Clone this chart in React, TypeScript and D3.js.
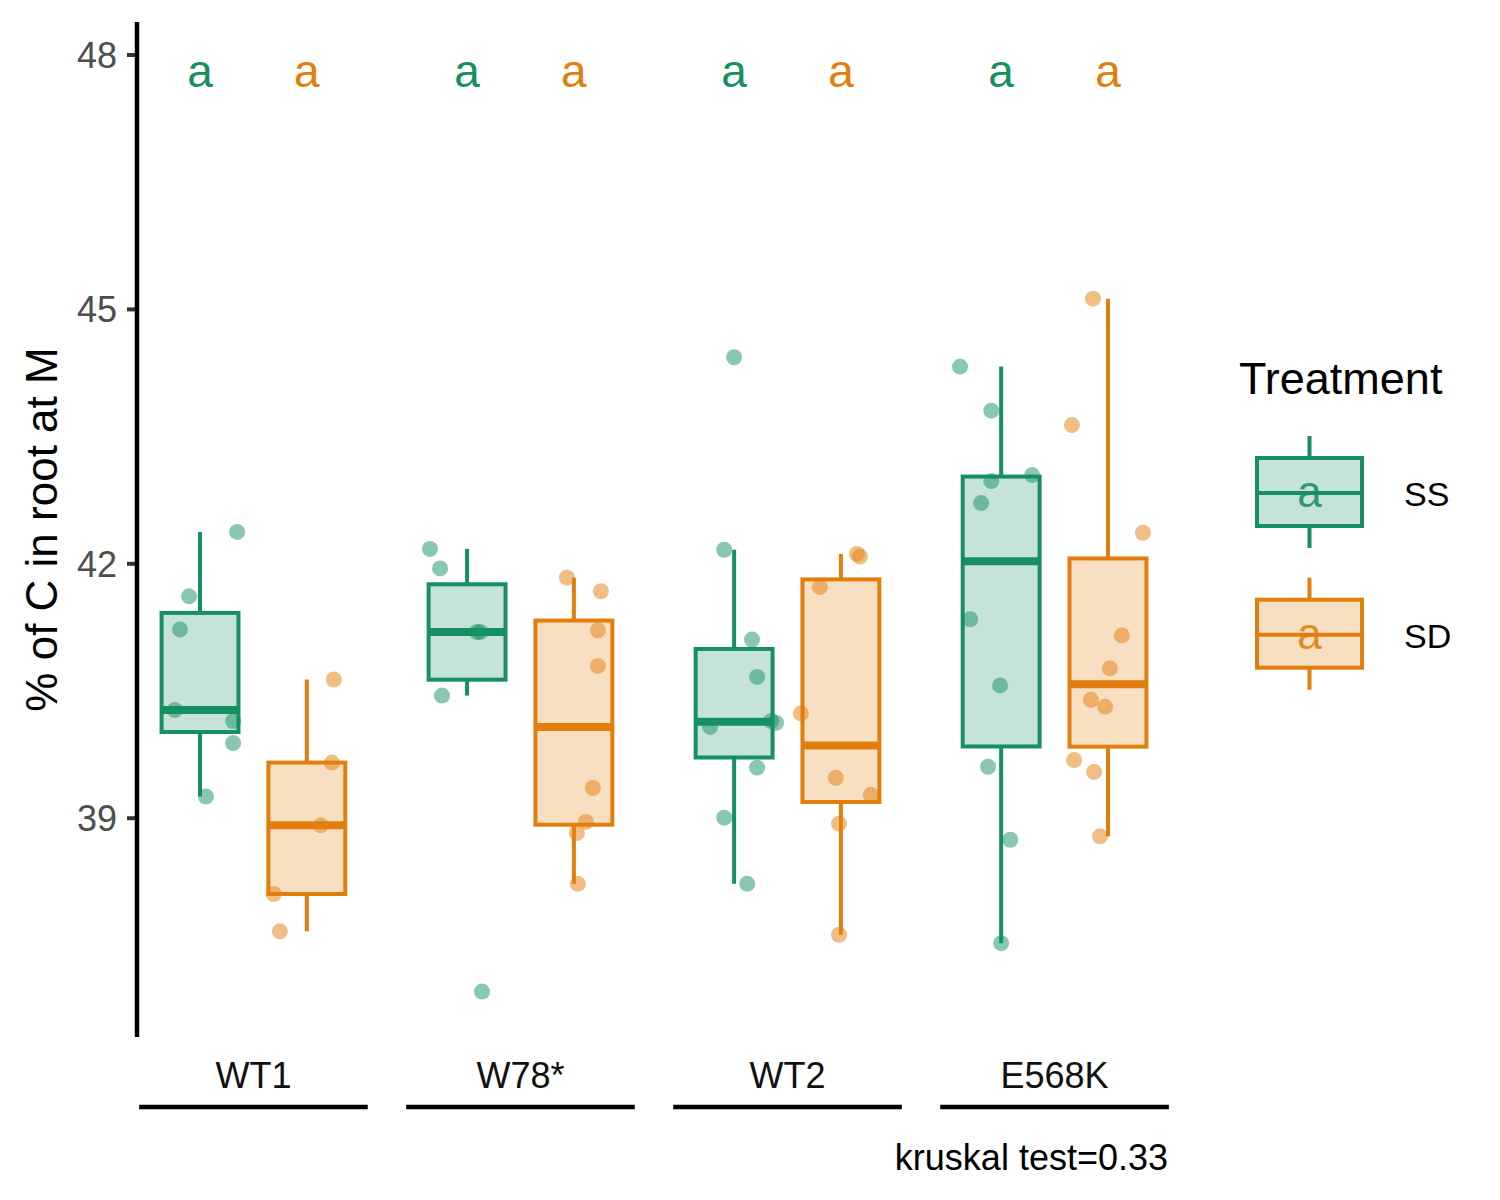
import { useEffect, useRef } from 'react';
import * as d3 from 'd3';

const genotypes = ['WT1', 'W78*', 'WT2', 'E568K'];
const treatments = ['SS', 'SD'];

// % C in root per plant (one array per genotype)
const carbonSS = [
  [42.37, 41.61, 41.22, 40.27, 40.14, 39.88, 39.25],
  [42.17, 41.94, 41.19, 41.19, 40.44, 36.95],
  [44.43, 42.16, 41.1, 40.66, 40.14, 40.12, 40.07, 39.59, 39.0, 38.22],
  [44.32, 43.8, 43.04, 42.97, 42.71, 41.34, 40.56, 39.6, 38.74, 37.52],
];
const carbonSD = [
  [40.63, 39.65, 38.91, 38.1, 37.66],
  [41.83, 41.67, 41.21, 40.79, 39.35, 38.95, 38.82, 38.22],
  [42.11, 42.08, 41.72, 40.23, 39.47, 39.27, 38.93, 37.62],
  [45.12, 43.63, 42.36, 41.15, 40.76, 40.39, 40.31, 39.68, 39.54, 38.78],
];

// jitter of each point, as a fraction of one genotype step
const jitterSS = [
  [0.139, -0.041, -0.075, -0.094, 0.124, 0.124, 0.022],
  [-0.139, -0.101, 0.037, 0.049, -0.094, 0.056],
  [0, -0.037, 0.067, 0.086, 0.139, 0.157, -0.09, 0.086, -0.037, 0.049],
  [-0.154, -0.037, 0.116, -0.037, -0.075, -0.116, -0.004, -0.049, 0.034, 0],
];
const jitterSD = [
  [0.101, 0.094, 0.052, -0.124, -0.101],
  [-0.026, 0.101, 0.09, 0.09, 0.071, 0.045, 0.011, 0.015],
  [0.06, 0.071, -0.079, -0.15, -0.019, 0.112, -0.007, -0.007],
  [-0.056, -0.135, 0.131, 0.052, 0.007, -0.064, -0.011, -0.127, -0.052, -0.03],
];

const lettersSS = ['a', 'a', 'a', 'a'];
const lettersSD = ['a', 'a', 'a', 'a'];
const letterLevel = 47.62;
const yTicks = [39, 42, 45, 48];
const yDomain = [36.414, 48.383];
const kruskalP = 0.33;

const colors: Record<string, string> = { SS: '#168F63', SD: '#E27E0C' };
const font = "'Liberation Sans', Arial, Helvetica, sans-serif";

type BoxGroup = {
  genotype: string;
  treatment: string;
  values: number[];
  jitter: number[];
  letter: string;
};

const groups: BoxGroup[] = genotypes.flatMap((genotype, i) => [
  { genotype, treatment: 'SS', values: carbonSS[i], jitter: jitterSS[i], letter: lettersSS[i] },
  { genotype, treatment: 'SD', values: carbonSD[i], jitter: jitterSD[i], letter: lettersSD[i] },
]);

function boxStats(values: number[]) {
  const sorted = [...values].sort(d3.ascending);
  const q1 = d3.quantileSorted(sorted, 0.25) ?? 0;
  const median = d3.quantileSorted(sorted, 0.5) ?? 0;
  const q3 = d3.quantileSorted(sorted, 0.75) ?? 0;
  const iqr = q3 - q1;
  const low = d3.min(sorted.filter((v) => v >= q1 - 1.5 * iqr)) ?? q1;
  const high = d3.max(sorted.filter((v) => v <= q3 + 1.5 * iqr)) ?? q3;
  return { q1, median, q3, low, high };
}

function drawChart(svgElement: SVGSVGElement) {
  const svg = d3.select(svgElement);
  svg.selectAll('*').remove();

  const width = 1500;
  const height = 1200;
  const panel = { left: 137, right: 1171, top: 22, bottom: 1037 };

  svg.attr('viewBox', `0 0 ${width} ${height}`).attr('width', width).attr('height', height);

  const x = d3.scalePoint<string>().domain(genotypes).range([panel.left, panel.right]).padding(0.436);
  const step = x.step();
  const dodge = d3.scaleBand<string>().domain(treatments).range([-0.4 * step, 0.4 * step]);
  const boxWidth = dodge.bandwidth() * 0.72;
  const y = d3.scaleLinear().domain(yDomain).range([panel.bottom, panel.top]);

  const center = (g: BoxGroup) => (x(g.genotype) ?? 0) + (dodge(g.treatment) ?? 0) + dodge.bandwidth() / 2;

  // boxes
  const boxes = svg.append('g').selectAll('g').data(groups).join('g');
  boxes.each(function (g: BoxGroup) {
    const s = boxStats(g.values);
    const cx = center(g);
    const sel = d3.select(this);
    const color = colors[g.treatment];
    sel
      .append('line')
      .attr('x1', cx)
      .attr('x2', cx)
      .attr('y1', y(s.q3))
      .attr('y2', y(s.high))
      .attr('stroke', color)
      .attr('stroke-width', 4);
    sel
      .append('line')
      .attr('x1', cx)
      .attr('x2', cx)
      .attr('y1', y(s.q1))
      .attr('y2', y(s.low))
      .attr('stroke', color)
      .attr('stroke-width', 4);
    sel
      .append('rect')
      .attr('x', cx - boxWidth / 2)
      .attr('width', boxWidth)
      .attr('y', y(s.q3))
      .attr('height', y(s.q1) - y(s.q3))
      .attr('fill', color)
      .attr('fill-opacity', 0.25)
      .attr('stroke', color)
      .attr('stroke-width', 4);
    sel
      .append('line')
      .attr('x1', cx - boxWidth / 2)
      .attr('x2', cx + boxWidth / 2)
      .attr('y1', y(s.median))
      .attr('y2', y(s.median))
      .attr('stroke', color)
      .attr('stroke-width', 8);
  });

  // jittered points
  const points = groups.flatMap((g) =>
    g.values.map((v, i) => ({ treatment: g.treatment, cx: center(g) + g.jitter[i] * step, value: v }))
  );
  svg
    .append('g')
    .selectAll('circle')
    .data(points)
    .join('circle')
    .attr('cx', (d) => d.cx)
    .attr('cy', (d) => y(d.value))
    .attr('r', 8)
    .attr('fill', (d) => colors[d.treatment])
    .attr('fill-opacity', 0.5);

  // significance letters
  svg
    .append('g')
    .selectAll('text')
    .data(groups)
    .join('text')
    .attr('x', (g) => center(g))
    .attr('y', y(letterLevel))
    .attr('text-anchor', 'middle')
    .attr('font-family', font)
    .attr('font-size', 46)
    .attr('fill', (g) => colors[g.treatment])
    .text((g) => g.letter);

  // y axis
  const axis = svg
    .append('g')
    .attr('transform', `translate(${panel.left},0)`)
    .call(d3.axisLeft(y).tickValues(yTicks).tickSize(10).tickPadding(10).tickFormat(d3.format('d')));
  axis.select('.domain').remove();
  axis.selectAll('.tick line').attr('stroke', '#333333').attr('stroke-width', 4);
  axis
    .selectAll('.tick text')
    .attr('fill', '#4D4D4D')
    .attr('font-family', font)
    .attr('font-size', 36)
    .attr('dy', '0.36em');
  svg
    .append('line')
    .attr('x1', panel.left)
    .attr('x2', panel.left)
    .attr('y1', panel.top)
    .attr('y2', panel.bottom)
    .attr('stroke', '#000')
    .attr('stroke-width', 4.5);

  svg
    .append('text')
    .attr('transform', 'rotate(-90)')
    .attr('x', -(panel.top + panel.bottom) / 2)
    .attr('y', 57)
    .attr('text-anchor', 'middle')
    .attr('font-family', font)
    .attr('font-size', 44)
    .attr('fill', '#000')
    .text('% of C in root at M');

  // genotype labels with underlines
  const labels = svg.append('g').selectAll('g').data(genotypes).join('g');
  labels
    .append('text')
    .attr('x', (d) => x(d) ?? 0)
    .attr('y', 1088)
    .attr('text-anchor', 'middle')
    .attr('font-family', font)
    .attr('font-size', 36)
    .attr('fill', '#111')
    .text((d) => d);
  labels
    .append('line')
    .attr('x1', (d) => (x(d) ?? 0) - 0.428 * step)
    .attr('x2', (d) => (x(d) ?? 0) + 0.428 * step)
    .attr('y1', 1107)
    .attr('y2', 1107)
    .attr('stroke', '#000')
    .attr('stroke-width', 4.5);

  svg
    .append('text')
    .attr('x', 1168)
    .attr('y', 1170)
    .attr('text-anchor', 'end')
    .attr('font-family', font)
    .attr('font-size', 36)
    .attr('fill', '#000')
    .text(`kruskal test=${kruskalP}`);

  // legend
  const legend = svg.append('g');
  legend
    .append('text')
    .attr('x', 1239)
    .attr('y', 394)
    .attr('font-family', font)
    .attr('font-size', 45)
    .attr('fill', '#000')
    .text('Treatment');

  const keys = legend.selectAll('g.key').data(treatments).join('g').attr('class', 'key');
  keys.each(function (t: string, i: number) {
    const sel = d3.select(this);
    const top = 436 + i * 141.7;
    const mid = top + 57;
    const kx = 1309.5;
    const color = colors[t];
    sel.append('line').attr('x1', kx).attr('x2', kx).attr('y1', top).attr('y2', top + 112).attr('stroke', color).attr('stroke-width', 4);
    sel
      .append('rect')
      .attr('x', kx - 52.5)
      .attr('width', 105)
      .attr('y', top + 22)
      .attr('height', 68)
      .attr('fill', '#fff');
    sel
      .append('rect')
      .attr('x', kx - 52.5)
      .attr('width', 105)
      .attr('y', top + 22)
      .attr('height', 68)
      .attr('fill', color)
      .attr('fill-opacity', 0.25)
      .attr('stroke', color)
      .attr('stroke-width', 4);
    sel.append('line').attr('x1', kx - 52.5).attr('x2', kx + 52.5).attr('y1', mid).attr('y2', mid).attr('stroke', color).attr('stroke-width', 4);
    sel
      .append('text')
      .attr('x', kx)
      .attr('y', mid + 14)
      .attr('text-anchor', 'middle')
      .attr('font-family', font)
      .attr('font-size', 44)
      .attr('fill', color)
      .attr('fill-opacity', 0.9)
      .text('a');
    sel
      .append('text')
      .attr('x', 1404)
      .attr('y', mid + 13)
      .attr('font-family', font)
      .attr('font-size', 34)
      .attr('fill', '#000')
      .text(t);
  });
}

export default function App() {
  const ref = useRef<SVGSVGElement>(null);

  useEffect(() => {
    if (ref.current) {
      drawChart(ref.current);
    }
  }, []);

  return (
    <div style={{ position: 'absolute', left: 0, top: 0, background: '#fff' }}>
      <svg ref={ref} style={{ display: 'block' }} />
    </div>
  );
}
